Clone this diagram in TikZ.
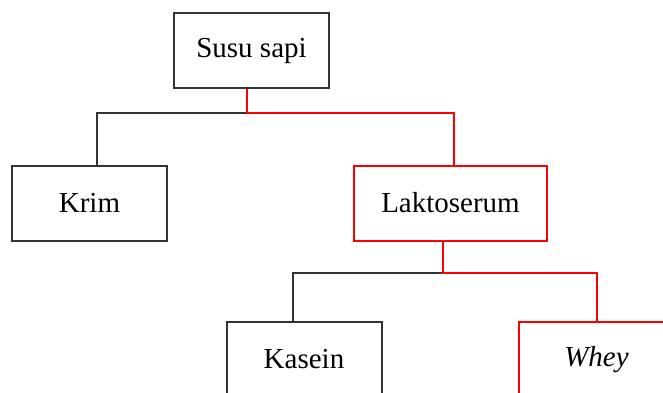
\documentclass[tikz,border=0pt]{standalone}
\usepackage{fontspec}
\setmainfont{Liberation Serif}
\tikzset{
  kotak/.style={draw=black!80, line width=1pt, fill=white, minimum width=77.5pt,
                minimum height=37.5pt, inner sep=0pt, font=\fontsize{14.5}{17}\selectfont},
  kotakmerah/.style={kotak, draw=red},
  garis/.style={black!80, line width=1pt},
  garismerah/.style={red, line width=1pt}
}
\begin{document}
\begin{tikzpicture}[x=0.5pt, y=-0.5pt]
            % Batas gambar
            \useasboundingbox (0,0) rectangle (663,392);
            \clip (0,0) rectangle (663,392);

            % Kotak
            \node[kotak] (susu) at (251.5,50.5) {Susu sapi};
            \node[kotak] (krim) at (89.5,203) {Krim};
            \node[kotakmerah, minimum width=96.5pt] (lakto) at (450.5,203) {Laktoserum};
            \node[kotak] (kasein) at (304,359.5) {Kasein};
            \node[kotakmerah] (whey) at (596.5,359.5) {\itshape Whey};

            % Titik cabang
            \coordinate (cabang1) at (247,113);
            \coordinate (cabang2) at (443,272.5);

            % Garis susu sapi
            \draw[garis] (cabang1) -| ([xshift=3.5]krim.north);
            \draw[garismerah] (susu.south -| cabang1) -- (cabang1) -| ([xshift=1.5]lakto.north);

            % Garis laktoserum
            \draw[garis] (cabang2) -| ([xshift=-5.5]kasein.north);
            \draw[garismerah] (lakto.south -| cabang2) -- (cabang2) -| (whey.north);
        \end{tikzpicture}
\end{document}
